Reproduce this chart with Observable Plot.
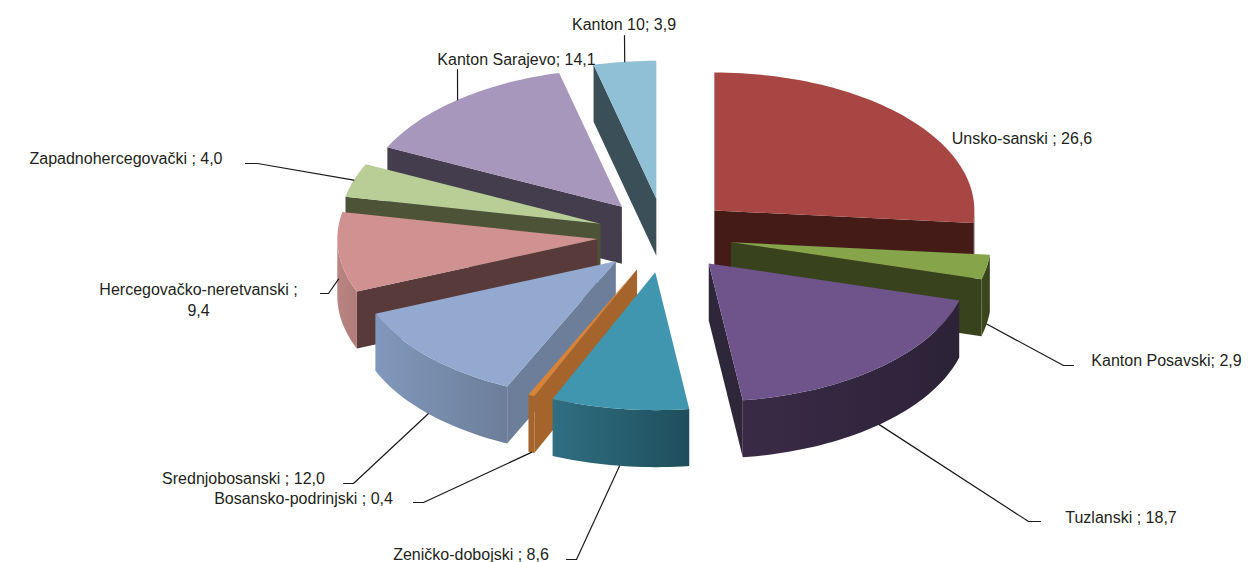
<!DOCTYPE html>
<html>
<head>
<meta charset="utf-8">
<script src="https://cdn.jsdelivr.net/npm/d3@7"></script>
<script src="https://cdn.jsdelivr.net/npm/@observablehq/plot@0.6"></script>
<style>html,body{margin:0;padding:0;background:#fff}svg{display:block}</style>
</head>
<body>
<div id="chart"></div>
<script>
// ---- data
const names = ["Unsko-sanski","Kanton Posavski","Tuzlanski","Zeničko-dobojski","Bosansko-podrinjski","Srednjobosanski","Hercegovačko-neretvanski","Zapadnohercegovački","Kanton Sarajevo","Kanton 10"];
const values = [26.6, 2.9, 18.7, 8.6, 0.4, 12.0, 9.4, 4.0, 14.1, 3.9];
const separators = [" ; ", "; ", " ; ", " ; ", " ; ", " ; ", " ;\n", " ; ", "; ", "; "];

// ---- styles
const topColors = ["#A74643","#86A44A","#6F548C","#3F96AE","#D98337","#93A9CF","#D09290","#B9CD96","#A797BC","#8FC0D5"];
const sideColors = ["#451B18","#38431D","#2E2639","#2F6F82","#A4642B","#6C7E99","#583A3B","#4C5337","#433D4D","#3A4F57"];
const wallFrom = ["#451B18","#3C4A1C","#3A2A46","#2F6F82","#A4642B","#8198BC","#B98482","#4C5337","#433D4D","#3A4F57"];
const wallTo   = ["#451B18","#38431D","#2C2338","#1F4E5C","#A4642B","#6C7E99","#B07C7A","#4C5337","#433D4D","#3A4F57"];

// ---- layout of the pie and of its labels
const pie3d = {cx: 664, cy: 235, rx: 260, ry: 138, depth: 57, burstX: 67.5, burstY: 37};
const paintOrder = [9, 8, 0, 7, 6, 1, 5, 2, 4, 3];
const leaderDrop = [0, 1, 1, 1, 1, 1, 0.47, 0, 0, 0];
const labelX = [1021.5, 1166, 1120.5, 470.5, 303, 243, 198, 125.5, 516, 623.5];
const labelY = [137, 359, 516, 553, 497, 477, 298, 157, 58, 23];
const leaderBends = [
  [],
  [[1063, 365], [1073, 365]],
  [[1028, 521], [1040, 521]],
  [[576, 559], [566, 559]],
  [[423, 502], [413, 502]],
  [[353, 483], [343, 483]],
  [[328, 293], [320, 293]],
  [[257, 163], [245, 163]],
  [[457, 69]],
  [[624, 35]]
];

// ---- geometry derived from the values
const total = d3.sum(values);
const rad = Math.PI / 180;
const cum = d3.cumsum(values);
const slices = values.map((v, i) => {
  const a1 = cum[i] / total * 360, a0 = a1 - v / total * 360, m = (a0 + a1) / 2;
  return {i, a0, a1, m,
    ax: pie3d.cx + pie3d.burstX * Math.sin(m * rad),
    ay: pie3d.cy - pie3d.burstY * Math.cos(m * rad)};
});
const rim = (s, a, drop = 0) => [
  s.ax + pie3d.rx * Math.sin(a * rad),
  s.ay - pie3d.ry * Math.cos(a * rad) + drop
];
const arcPoints = (s, a0, a1, drop = 0) => {
  const n = Math.max(2, Math.ceil((a1 - a0) / 1.5));
  return d3.range(n + 1).map(k => rim(s, a0 + (a1 - a0) * k / n, drop));
};
const face = pts => ({x: d => d[0], y: d => d[1]});
const poly = (pts, fill) => Plot.line(pts, {x: d => d[0], y: d => d[1], fill, stroke: "none", curve: "linear"});
const radialFace = (s, a) => [[s.ax, s.ay], rim(s, a), rim(s, a, pie3d.depth), [s.ax, s.ay + pie3d.depth]];

const marks = [];
// gradient definitions for the curved outer walls
marks.push(() => {
  const defs = d3.create("svg:defs");
  slices.forEach(s => {
    const g = defs.append("linearGradient").attr("id", "wall-" + s.i);
    g.append("stop").attr("offset", "0%").attr("stop-color", wallFrom[s.i]);
    g.append("stop").attr("offset", "100%").attr("stop-color", wallTo[s.i]);
  });
  return defs.node();
});

for (const idx of paintOrder) {
  const s = slices[idx];
  // radial walls facing the viewer
  if (Math.sin(s.a0 * rad) < 0) marks.push(poly(radialFace(s, s.a0), sideColors[idx]));
  if (Math.sin(s.a1 * rad) > 0) marks.push(poly(radialFace(s, s.a1), sideColors[idx]));
  // curved outer wall (front half only)
  const w0 = Math.max(s.a0, 90), w1 = Math.min(s.a1, 270);
  if (w1 > w0) {
    const wall = [...arcPoints(s, w0, w1), ...arcPoints(s, w0, w1, pie3d.depth).reverse()];
    // order so the gradient runs from screen left to screen right
    const leftToRight = (w0 + w1) / 2 > 180 || w1 > 180 ? "wall-" + idx : "wall-" + idx;
    marks.push(poly(wall, `url(#${leftToRight})`));
  }
  // top face
  marks.push(poly([[s.ax, s.ay], ...arcPoints(s, s.a0, s.a1)], topColors[idx]));
}

// leaders
const leaders = slices.flatMap(s => {
  const bends = leaderBends[s.i];
  if (!bends.length) return [];
  const start = rim(s, s.m, leaderDrop[s.i] * pie3d.depth);
  return [start, ...bends].map(p => ({k: s.i, x: p[0], y: p[1]}));
});
marks.push(Plot.line(leaders, {x: "x", y: "y", z: "k", stroke: "#1a1a1a", strokeWidth: 1.2, curve: "linear"}));

// labels
const fmt = v => v.toFixed(1).replace(".", ",");
const labels = names.map((n, i) => ({text: n + separators[i] + fmt(values[i]), x: labelX[i], y: labelY[i]}));
marks.push(Plot.text(labels, {
  x: "x", y: "y", text: "text", textAnchor: "middle", lineAnchor: "middle", lineHeight: 1.35,
  fontFamily: "Liberation Sans", fontSize: 16, fill: "#231F20"
}));

const plot = Plot.plot({
  width: 1258, height: 562, margin: 0,
  style: {background: "#fff", overflow: "hidden"},
  x: {domain: [0, 1258], range: [0, 1258], axis: null},
  y: {domain: [0, 562], range: [0, 562], axis: null},
  marks
});
document.getElementById("chart").appendChild(plot);
</script>
</body>
</html>
